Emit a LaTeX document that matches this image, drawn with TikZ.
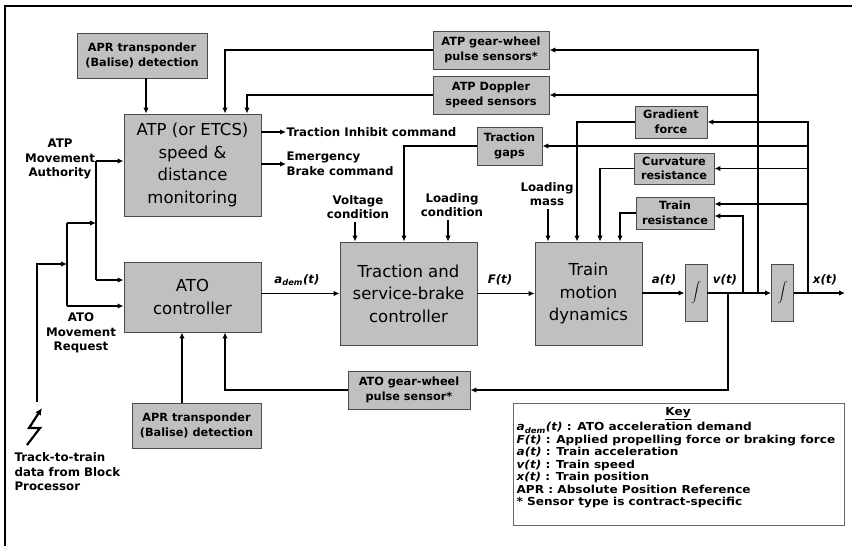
\documentclass[tikz,border=0pt]{standalone}
\usepackage{fontspec}
\setmainfont{DejaVu Sans}
\newfontfamily\keyfont{DejaVu Sans}[FakeStretch=1.1]
\usetikzlibrary{arrows.meta}
\usetikzlibrary{positioning}
\definecolor{boxfill}{RGB}{192,192,192}
\definecolor{boxline}{RGB}{75,75,75}
\definecolor{keyline}{RGB}{105,105,105}
\newcommand{\adem}{\textit{a}\textsubscript{\textit{dem}}\textit{(t)}}

\begin{document}
\begin{tikzpicture}[x=1pt, y=-1pt, line width=1.2pt,
  >={Latex[length=6pt,width=5.5pt]},
  box/.style={draw=boxline, fill=boxfill, line width=0.9pt, inner sep=1pt, align=center,
    font=\fontsize{11.3}{14.5}\selectfont\bfseries},
  bigbox/.style={box, font=\fontsize{16.5}{22.5}\selectfont},
  intbox/.style={box, minimum width=22pt, minimum height=57pt},
  lbl/.style={inner sep=0pt, align=center, font=\fontsize{11.8}{14.5}\selectfont\bfseries},
  sig/.style={inner sep=0pt, font=\fontsize{11.8}{14.5}\selectfont\bfseries\itshape},
  keytxt/.style={inner sep=0pt, align=left, font=\keyfont\fontsize{11}{12.5}\selectfont\bfseries}]

 \useasboundingbox (0,0) rectangle (852,546);
 %frame
 \draw[line width=2pt] (5,546) -- (5,6) -- (852,6);

 %ATP side
 \node[box, minimum width=130pt, minimum height=45pt] (aprtop) at (142,55.5) {APR transponder\\(Balise) detection};
 \node[bigbox, minimum width=137pt, minimum height=102pt] (atp) at (192.5,165) {ATP (or ETCS)\\speed \&\\distance\\monitoring};
 \node[box, minimum width=116pt, minimum height=38pt] (atpgear) at (491,50) {ATP gear-wheel\\pulse sensors*};
 \node[box, minimum width=116pt, minimum height=38pt] (atpdop) at (491,95) {ATP Doppler\\speed sensors};

 %ATO side
 \node[bigbox, minimum width=137pt, minimum height=70pt] (ato) at (192.5,297) {ATO\\controller};
 \node[box, minimum width=129pt, minimum height=45pt] (aprbot) at (196.5,425.5) {APR transponder\\(Balise) detection};
 \node[box, minimum width=122pt, minimum height=38pt] (atogear) at (409,390) {ATO gear-wheel\\pulse sensor*};

 %forward path
 \node[bigbox, minimum width=137pt, minimum height=103pt] (tsb) at (408.5,293.5) {Traction and\\service-brake\\controller};
 \node[bigbox, minimum width=107pt, minimum height=103pt] (tmd) at (588.5,293.5) {Train\\motion\\dynamics};
 \node[intbox] (int1) at (696,293) {\Large$\displaystyle\int$};
 \node[intbox] (int2) at (782.5,293) {\Large$\displaystyle\int$};

 %disturbances
 \node[box, minimum width=65pt, minimum height=38pt] (gaps) at (509.5,146) {Traction\\gaps};
 \node[box, minimum width=72pt, minimum height=32pt] (gradient) at (671,122) {Gradient\\force};
 \node[box, minimum width=80pt, minimum height=31pt] (curv) at (674,168.5) {Curvature\\resistance};
 \node[box, minimum width=78pt, minimum height=32pt] (trainres) at (675,213) {Train\\resistance};

 %labels
 \node[lbl] (atpma) at (60,159) {ATP\\Movement\\Authority};
 \node[lbl] (atomr) at (81,333) {ATO\\Movement\\Request};
 \node[lbl, align=left, anchor=north west] (trk) at (14,452) {Track-to-train\\data from Block\\Processor};
 \node[lbl, anchor=west] (tilbl) at (286,132) {Traction Inhibit command};
 \node[lbl, anchor=west, align=left] (eblbl) at (286,164) {Emergency\\Brake command};
 \node[lbl] (volt) at (358,207) {Voltage\\condition};
 \node[lbl] (lcond) at (452,205) {Loading\\condition};
 \node[lbl] (lmass) at (547,194) {Loading\\mass};

 \node[sig] (ademlbl) at (297,280) {\adem};
 \node[sig] (flbl) at (500,280) {F(t)};
 \node[sig] (albl) at (664,280) {a(t)};
 \node[sig] (vlbl) at (725,280) {v(t)};
 \node[sig] (xlbl) at (825,280) {x(t)};

 %key
 \node[draw=keyline, fill=white, line width=0.9pt, minimum width=331pt, minimum height=122pt] (key) at (678.5,464) {};
 \node[keytxt] (keyttl) at (678,414) {\underline{Key}};
 \node[keytxt, anchor=north west] (keybody) at (516,422) {\adem\ : ATO acceleration demand\\
   \textit{F(t)} : Applied propelling force or braking force\\
   \textit{a(t)} : Train acceleration\\
   \textit{v(t)} : Train speed\\
   \textit{x(t)} : Train position\\
   APR : Absolute Position Reference\\
   * Sensor type is contract-specific};

 %taps
 \coordinate (v1) at (728,293);
 \coordinate (v2) at (743,293);
 \coordinate (v3) at (758,293);
 \coordinate (x1) at (808,293);
 \coordinate (xend) at (845,293);

 %forward lines
 \draw[->] (ato.east |- tsb.west) -- (tsb.west);
 \draw[->] (tsb.east) -- (tmd.west);
 \draw[->] (tmd.east |- int1.west) -- (int1.west);
 \draw[->] (int1.east) -- (int2.west);
 \draw[->] (int2.east) -- (xend);

 %ATP lines
 \draw[->] (146,0 |- aprtop.south) -- (146,0 |- atp.north);
 \draw[->] (atpgear.west) -| (225,0 |- atp.north);
 \draw[->] (atpdop.west) -| (247,0 |- atp.north);
 \draw[->] (v3) |- (atpgear.east);
 \draw[->] (v3) |- (atpdop.east);
 \draw[->] (atp.east |- tilbl.west) -- (tilbl.west);
 \draw[->] (atp.east |- eblbl.west) -- (eblbl.west);

 %ATO lines
 \draw[->] (v1) |- (atogear.east);
 \draw[->] (atogear.west) -| (225,0 |- ato.south);
 \draw[->] (182,0 |- aprbot.north) -- (182,0 |- ato.south);

 %disturbance lines
 \draw[->] (x1) |- (gradient.east);
 \draw[->] (x1) |- (gaps.east);
 \draw[->] (x1) |- (curv.east);
 \draw[->] (x1) |- ([yshift=9pt]trainres.east);
 \draw[->] (v2) |- ([yshift=-3pt]trainres.east);
 \draw[->] (gaps.west) -| (404,0 |- tsb.north);
 \draw[->] (gradient.west) -| (577,0 |- tmd.north);
 \draw[->] (curv.west) -| (600,0 |- tmd.north);
 \draw[->] (trainres.west) -| (620,0 |- tmd.north);
 \draw[->] ([yshift=-3pt]355,0 |- volt.south) -- (355,0 |- tsb.north);
 \draw[->] ([yshift=-3pt]448,0 |- lcond.south) -- (448,0 |- tsb.north);
 \draw[->] ([yshift=-3pt]548,0 |- lmass.south) -- (548,0 |- tmd.north);

 %track-to-train input
 \coordinate (trk0) at (37,402);
 \coordinate (j1) at (67,264);
 \coordinate (j1t) at (67,223);
 \coordinate (j1b) at (67,306);
 \coordinate (j2) at (96,223);
 \coordinate (a1) at (96,161);
 \coordinate (a2) at (96,280);
 \draw[line width=2.2pt, ->, >={Latex[length=7pt,width=6.5pt]}] (27,445) -- (40,428) -- (29,428) -- (42,408);
 \draw[line width=2.2pt, ->] (trk0) |- (j1);
 \draw (j1t) -- (j1b);
 \draw[->] (j1t) -- (j2);
 \draw (a1) -- (a2);
 \draw[->] (a1) -- (atp.west |- a1);
 \draw[->] (a2) -- (ato.west |- a2);
 \draw[->] (j1b) -- (ato.west |- j1b);

\end{tikzpicture}
\end{document}
